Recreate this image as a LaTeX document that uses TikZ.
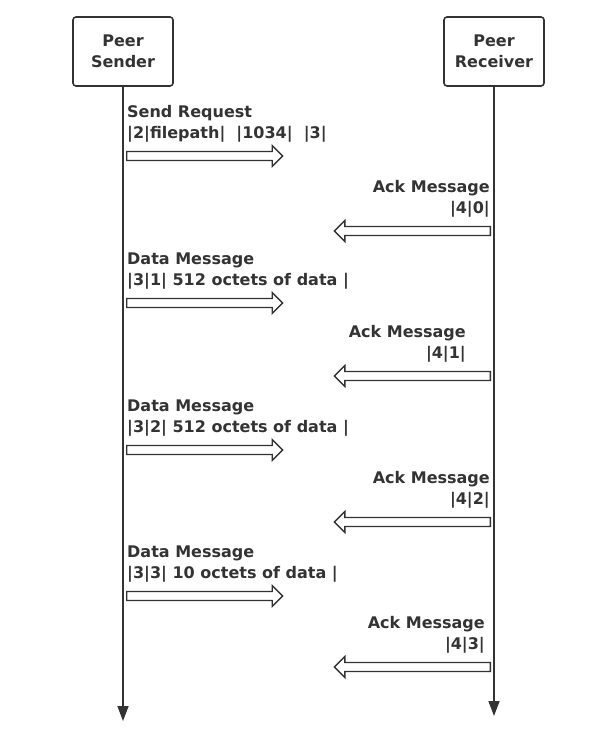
\documentclass[tikz,border=0pt]{standalone}
\usepackage{fontspec}
\usepackage{tikz}
\usetikzlibrary{shapes.arrows,arrows.meta,positioning}
\newfontfamily\peerfont{DejaVu Sans}
\definecolor{linegray}{RGB}{51,51,51}
\definecolor{textgray}{RGB}{51,51,51}

\begin{document}
\begin{tikzpicture}[
        x=1pt, y=-1pt,
        peer/.style={rectangle, rounded corners=3pt, draw=linegray, line width=1.6pt, minimum width=100pt, minimum height=69pt, align=center, text=textgray, font=\peerfont\bfseries\fontsize{16}{21}\selectfont},
        lifeline/.style={draw=linegray, line width=1.6pt, -{Triangle[length=15pt, width=11pt]}},
        msg/.style={single arrow, draw=linegray, line width=1.4pt, fill=white, inner xsep=0pt, inner ysep=3.8pt, single arrow head extend=6pt, minimum height=156pt},
        lbl/.style={inner sep=0pt, text=textgray, font=\peerfont\bfseries\fontsize{16}{21}\selectfont}
    ]
        \useasboundingbox (0,0) rectangle (607,736);

        % Actors
        \node[peer] (SND) at (123,51.5) {Peer\\Sender};
        \node[peer] (RCV) at (494,51.5) {Peer\\Receiver};

        % Lifelines
        \coordinate (SNDend) at (123,721);
        \coordinate (RCVend) at (494,716);
        \draw[lifeline] (SND) -- (SNDend);
        \draw[lifeline] (RCV) -- (RCVend);

        % Messages
        \node[msg, anchor=tail] (REQ) at (126,156) {};
        \node[lbl, align=left, above right=14pt and 1pt of REQ.tail] (REQlbl) {Send Request\\|2|filepath|~~|1034|~~|3|};

        \node[msg, shape border rotate=180, anchor=tail] (ACK0) at (491,231) {};
        \node[lbl, align=right, above left=14pt and 1pt of ACK0.tail] (ACK0lbl) {Ack Message\\|4|0|};

        \node[msg, anchor=tail] (DAT1) at (126,303) {};
        \node[lbl, align=left, above right=14pt and 1pt of DAT1.tail] (DAT1lbl) {Data Message\\|3|1| 512 octets of data |};

        \node[msg, shape border rotate=180, anchor=tail] (ACK1) at (491,376) {};
        \node[lbl, align=right, above left=14pt and 25pt of ACK1.tail] (ACK1lbl) {Ack Message\\|4|1|};

        \node[msg, anchor=tail] (DAT2) at (126,450) {};
        \node[lbl, align=left, above right=14pt and 1pt of DAT2.tail] (DAT2lbl) {Data Message\\|3|2| 512 octets of data |};

        \node[msg, shape border rotate=180, anchor=tail] (ACK2) at (491,522) {};
        \node[lbl, align=right, above left=14pt and 1pt of ACK2.tail] (ACK2lbl) {Ack Message\\|4|2|};

        \node[msg, anchor=tail] (DAT3) at (126,596) {};
        \node[lbl, align=left, above right=14pt and 1pt of DAT3.tail] (DAT3lbl) {Data Message\\|3|3| 10 octets of data |};

        \node[msg, shape border rotate=180, anchor=tail] (ACK3) at (491,667) {};
        \node[lbl, align=right, above left=14pt and 6pt of ACK3.tail] (ACK3lbl) {Ack Message\\|4|3|};

    \end{tikzpicture}
\end{document}
